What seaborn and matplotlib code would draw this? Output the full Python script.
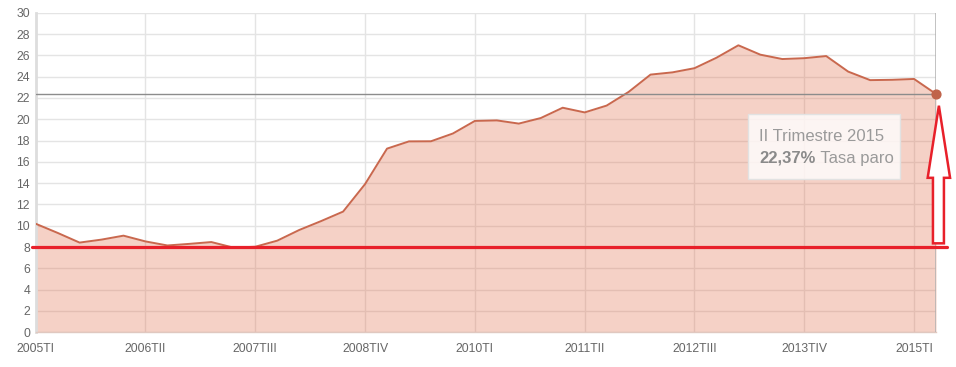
import seaborn as sns
import matplotlib.pyplot as plt
import pandas as pd
from matplotlib.patches import Polygon, Rectangle

# Tasa de paro (EPA), 2005 TI - 2015 TII
years = list(range(2005, 2016))
roman = ["I", "II", "III", "IV"]
quarters = [f"{y}T{r}" for y in years for r in roman][:42]
tasa_paro = [10.19, 9.33, 8.42, 8.70, 9.07, 8.53, 8.15, 8.30,
             8.47, 7.95, 8.03, 8.60, 9.60, 10.44, 11.33, 13.91,
             17.24, 17.92, 17.93, 18.66, 19.84, 19.89, 19.59, 20.11,
             21.08, 20.64, 21.28, 22.56, 24.19, 24.40, 24.79, 25.77,
             26.94, 26.06, 25.65, 25.73, 25.93, 24.47, 23.67, 23.70,
             23.78, 22.37]
tooltip_title = "II Trimestre 2015"
tooltip_series = "Tasa paro"
reference_level = 8.0

df = pd.DataFrame({"idx": range(len(quarters)), "trimestre": quarters, "paro": tasa_paro})

sns.set_style("white")
plt.rcParams['font.family'] = ['Liberation Sans', 'DejaVu Sans']

fig = plt.figure(figsize=(9.56, 3.67), dpi=100)
ax = fig.add_axes([0.0373, 0.0946, 0.9418, 0.8708])

line_col = "#c9684e"
fill_col = (225 / 255, 105 / 255, 68 / 255, 0.3)

ax.fill_between(df["idx"], df["paro"], 0, color=fill_col, lw=0, zorder=2)
sns.lineplot(data=df, x="idx", y="paro", color=line_col, lw=1.4, ax=ax, zorder=3)

last = len(df) - 1
ax.scatter([last], [tasa_paro[-1]], s=40, color="#c0634a", zorder=5, clip_on=False)

# crosshair lines of the hover
ax.axhline(tasa_paro[-1], color="#8c8c8c", lw=1, zorder=4)
ax.axvline(last, color="#b0b0b0", lw=1.8, zorder=4)

ax.set_xlim(0, last)
ax.set_ylim(0, 30)
ax.set_yticks(range(0, 31, 2))
ax.set_xticks(df["idx"][::5])
ax.set_xticklabels(df["trimestre"][::5])
ax.tick_params(axis="both", length=0, labelsize=8.8, colors="#666666")
ax.tick_params(axis="x", pad=8)
ax.tick_params(axis="y", pad=4)
ax.grid(True, color="#e4e4e4", lw=1, zorder=1)
ax.set_axisbelow(True)
ax.set_xlabel("")
ax.set_ylabel("")
for side in ["top", "right"]:
    ax.spines[side].set_visible(False)
ax.spines["left"].set_color("#dddddd")
ax.spines["left"].set_linewidth(2)
ax.spines["bottom"].set_color("#e0c8c0")
ax.spines["bottom"].set_linewidth(1)

# red reference line
ax.axhline(reference_level, xmin=-0.004, xmax=1.012, color="#e8202a", lw=2.3,
           zorder=6, clip_on=False)

# hollow red arrow pointing to the last value
tip_y = tasa_paro[-1] - 1.1
arrow = Polygon([(last + 0.13, tip_y), (last + 0.64, reference_level + 6.5),
                 (last + 0.36, reference_level + 6.5), (last + 0.36, reference_level + 0.35),
                 (last - 0.14, reference_level + 0.35), (last - 0.14, reference_level + 6.5),
                 (last - 0.38, reference_level + 6.5)],
                closed=True, facecolor="white", edgecolor="#e8202a", lw=1.8,
                zorder=7, clip_on=False)
ax.add_patch(arrow)

# tooltip
ax.add_patch(Rectangle((0.791, 0.48), 0.169, 0.203, transform=ax.transAxes,
                       facecolor=(1, 1, 1, 0.8), edgecolor="#e2e2e2", lw=1, zorder=8))
ax.text(0.8037, 0.614, tooltip_title, transform=ax.transAxes, fontsize=12,
        color="#9a9a9a", va="center", ha="left", zorder=9)
t_val = ax.text(0.8037, 0.544, f"{tasa_paro[-1]:.2f}%".replace(".", ","),
                transform=ax.transAxes, fontsize=12, fontweight="bold",
                color="#8a8a8a", va="center", ha="left", zorder=9)
ax.annotate(" " + tooltip_series, xy=(1, 0.5), xycoords=t_val, fontsize=12,
            color="#9a9a9a", va="center", ha="left", zorder=9)

fig.savefig("out.png", dpi=100)
